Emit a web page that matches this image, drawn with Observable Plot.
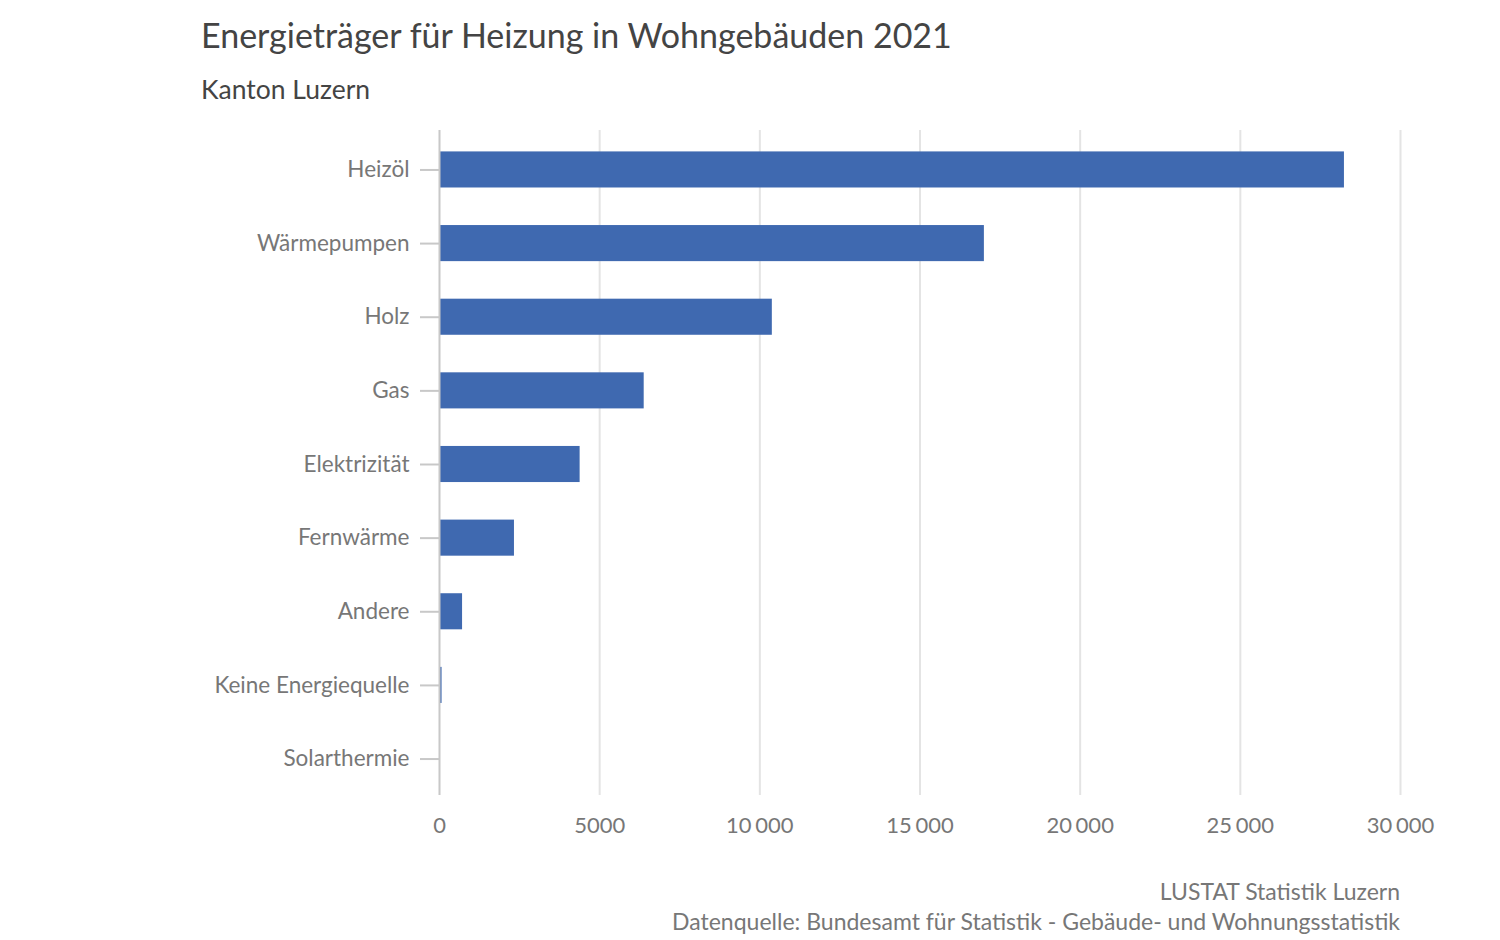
<!DOCTYPE html>
<html><head><meta charset="utf-8">
<script src="https://cdn.jsdelivr.net/npm/d3@7"></script>
<script src="https://cdn.jsdelivr.net/npm/@observablehq/plot@0.6"></script>
<style>
body{margin:0;background:#fff;font-family:"Source Sans Pro",Lato,"Noto Sans",sans-serif;}
#wrap{position:relative;width:1500px;height:940px;}
#title{position:absolute;left:201px;top:14px;font-size:34px;color:#444;white-space:nowrap;}
#sub{position:absolute;left:201px;top:73px;font-size:26.5px;color:#444;white-space:nowrap;}
#chart{position:absolute;left:0;top:120px;}
#foot{position:absolute;right:100px;top:876px;text-align:right;font-size:23px;color:#777;line-height:30px;white-space:nowrap;}
</style></head><body>
<div id="wrap">
<div id="title">Energieträger für Heizung in Wohngebäuden 2021</div>
<div id="sub">Kanton Luzern</div>
<div id="chart"></div>
<div id="foot">LUSTAT Statistik Luzern<br>Datenquelle: Bundesamt für Statistik - Gebäude- und Wohnungsstatistik</div>
</div>
<script>
const categories = ["Heizöl","Wärmepumpen","Holz","Gas","Elektrizität","Fernwärme","Andere","Keine Energiequelle","Solarthermie"];
const values = [28250, 17010, 10390, 6390, 4390, 2340, 720, 80, 10];
const xTicks = [0, 5000, 10000, 15000, 20000, 25000, 30000];

const data = categories.map((c, i) => ({category: c, value: values[i]}));
const fmt = v => v >= 10000 ? d3.format(",")(v).replace(/,/g, "\u2006") : String(v);

const chart = Plot.plot({
  width: 1500,
  height: 725,
  marginLeft: 439,
  marginRight: 100,
  marginTop: 10,
  marginBottom: 50,
  style: {fontFamily: '"Source Sans Pro",Lato,"Noto Sans",sans-serif', fontSize: "22px", color: "#777", background: "#fff"},
  x: {domain: [0, 30000], ticks: xTicks, tickFormat: fmt, label: null},
  y: {domain: categories, range: [13, 675], paddingInner: 0.51, paddingOuter: 0.25, round: false, label: null},
  marks: [
    Plot.ruleX(xTicks.slice(1), {stroke: "#e4e4e4", strokeWidth: 2}),
    Plot.barX(data, {x: "value", y: "category", fill: "#3f69b0"}),
    Plot.ruleX([0], {stroke: "#c8c8c8", strokeWidth: 2}),
    Plot.axisX({ticks: xTicks, tickFormat: fmt, tickSize: 0, tickPadding: 22, fill: "#777", fontSize: 22}),
    Plot.axisY({tickSize: 19, tickPadding: 11, stroke: "#c8c8c8", strokeWidth: 2, fill: "#777", fontSize: 22.5})
  ]
});
document.getElementById("chart").appendChild(chart);
</script>
</body></html>
